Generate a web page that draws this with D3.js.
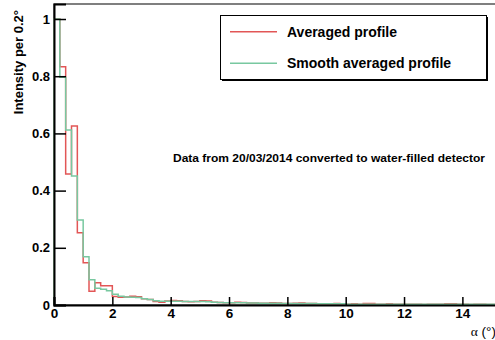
<!DOCTYPE html>
<html>
<head>
<meta charset="utf-8">
<script src="https://cdn.jsdelivr.net/npm/d3@7"></script>
<style>
  body { margin: 0; background: #fff; }
  svg { font-family: "Liberation Sans", Arial, sans-serif; }
</style>
</head>
<body>
<svg id="canvas" width="495" height="340"></svg>
<script>
const bin_width = 0.2;

// averaged profile, one value per 0.2 deg bin starting at 0
const averaged = [
    1.0, 0.833, 0.458, 0.626, 0.253, 0.148, 0.048, 0.078, 0.067, 0.067,
    0.030, 0.027, 0.028, 0.031, 0.029, 0.022, 0.019, 0.012, 0.010, 0.014,
    0.016, 0.015, 0.012, 0.011, 0.012, 0.015, 0.014, 0.010, 0.009, 0.008,
    0.008, 0.010, 0.009, 0.007, 0.007, 0.006, 0.006, 0.008, 0.007, 0.005,
    0.005, 0.006, 0.007, 0.005, 0.005, 0.004, 0.004, 0.004, 0.005, 0.004,
    0.003, 0.004, 0.003, 0.005, 0.005, 0.003, 0.003, 0.004, 0.003, 0.003,
    0.003, 0.003, 0.003, 0.002, 0.003, 0.003, 0.003, 0.004, 0.004, 0.003,
    0.003, 0.002, 0.003, 0.003, 0.002, 0.002
];

// smooth averaged profile
const smooth = [
    1.0, 0.796, 0.612, 0.451, 0.297, 0.169, 0.088, 0.059, 0.055, 0.050,
    0.038, 0.031, 0.028, 0.027, 0.026, 0.022, 0.019, 0.015, 0.013, 0.013,
    0.013, 0.013, 0.012, 0.012, 0.012, 0.012, 0.011, 0.010, 0.009, 0.008,
    0.008, 0.008, 0.008, 0.007, 0.007, 0.006, 0.006, 0.006, 0.006, 0.005,
    0.005, 0.005, 0.005, 0.005, 0.005, 0.004, 0.004, 0.004, 0.004, 0.004,
    0.003, 0.003, 0.003, 0.003, 0.003, 0.003, 0.003, 0.003, 0.003, 0.003,
    0.003, 0.003, 0.003, 0.003, 0.003, 0.003, 0.003, 0.003, 0.003, 0.003,
    0.003, 0.003, 0.003, 0.003, 0.003, 0.003
];

const x_ticks = [0, 2, 4, 6, 8, 10, 12, 14];
const y_ticks = [0, 0.2, 0.4, 0.6, 0.8, 1];
const y_tick_labels = ["0", "0.2", "0.4", "0.6", "0.8", "1"];

const series_names = ["Averaged profile", "Smooth averaged profile"];
const series_colors = ["#e25656", "#78c8a0"];

const svg = d3.select("svg#canvas");

const x = d3.scaleLinear().domain([0, 15.2]).range([54, 54 + 15.2 * 29.17]);
const y = d3.scaleLinear().domain([0, 1.0525]).range([305, 4]);

// frame
svg.append("rect")
    .attr("x", x(0)).attr("y", y(1.0525))
    .attr("width", x(15.2) - x(0)).attr("height", y(0) - y(1.0525))
    .attr("fill", "none").attr("stroke", "#000").attr("stroke-width", 1);

// histograms as steps
const step_line = (vals) => {
    const pts = [[0, 0]];
    vals.forEach((v, i) => {
        pts.push([i * bin_width, v]);
        pts.push([(i + 1) * bin_width, v]);
    });
    return d3.line().x(d => x(d[0])).y(d => y(d[1]))(pts);
};

svg.selectAll("path.hist")
    .data([averaged, smooth])
    .join("path")
    .attr("class", "hist")
    .attr("d", step_line)
    .attr("fill", "none")
    .attr("stroke", (_, i) => series_colors[i])
    .attr("stroke-width", 1.5);

// x axis
const x_axis = svg.append("g").attr("transform", `translate(0,${y(0)})`);
x_axis.call(d3.axisBottom(x).tickValues(d3.range(0, 15.1, 0.5)).tickSize(-4).tickFormat(""));
x_axis.call(d3.axisBottom(x).tickValues(x_ticks).tickSize(-8).tickPadding(3));
x_axis.selectAll(".domain").attr("stroke-width", 2);
x_axis.selectAll("line").attr("stroke-width", 1.5);
x_axis.selectAll("text")
    .attr("font-size", 13.5).attr("font-weight", "bold")
    .attr("font-family", "Liberation Sans, Arial, sans-serif")
    .attr("dy", "0.75em");

// y axis
const y_axis = svg.append("g").attr("transform", `translate(${x(0)},0)`);
y_axis.call(d3.axisLeft(y).tickValues(d3.range(0, 1.051, 0.05)).tickSize(-6).tickFormat(""));
y_axis.call(d3.axisLeft(y).tickValues(y_ticks).tickSize(-12).tickPadding(4)
    .tickFormat((_, i) => y_tick_labels[i]));
y_axis.selectAll(".domain").attr("stroke-width", 2);
y_axis.selectAll("line").attr("stroke-width", 1.5);
y_axis.selectAll("text")
    .attr("font-size", 13).attr("font-weight", "bold")
    .attr("font-family", "Liberation Sans, Arial, sans-serif");

// axis titles
svg.append("text")
    .attr("transform", "translate(23,10) rotate(-90)")
    .attr("text-anchor", "end")
    .attr("font-size", 13).attr("font-weight", "bold")
    .text("Intensity per 0.2°");

svg.append("text")
    .attr("x", 496).attr("y", 336)
    .attr("text-anchor", "end")
    .attr("font-size", 13.5)
    .html('<tspan font-family="Liberation Serif, Times New Roman, serif">α</tspan> (°)');

// annotation
svg.append("text")
    .attr("x", 173).attr("y", 162)
    .attr("font-size", 11.5).attr("font-weight", "bold")
    .attr("textLength", 312).attr("lengthAdjust", "spacingAndGlyphs")
    .text("Data from 20/03/2014 converted to water-filled detector");

// legend
const legend = svg.append("g");
legend.append("rect")
    .attr("x", 222).attr("y", 17).attr("width", 266).attr("height", 64)
    .attr("fill", "#000");
legend.append("rect")
    .attr("x", 220.5).attr("y", 15.5).attr("width", 266).attr("height", 64)
    .attr("fill", "#fff").attr("stroke", "#000").attr("stroke-width", 1);

const items = legend.selectAll("g.item")
    .data(series_names)
    .join("g")
    .attr("class", "item")
    .attr("transform", (_, i) => `translate(0,${31.7 + i * 31.6})`);
items.append("line")
    .attr("x1", 230).attr("x2", 277)
    .attr("stroke", (_, i) => series_colors[i]).attr("stroke-width", 1.5);
items.append("text")
    .attr("x", 287).attr("y", 5)
    .attr("font-size", 14).attr("font-weight", "bold")
    .text(d => d);
</script>
</body>
</html>
